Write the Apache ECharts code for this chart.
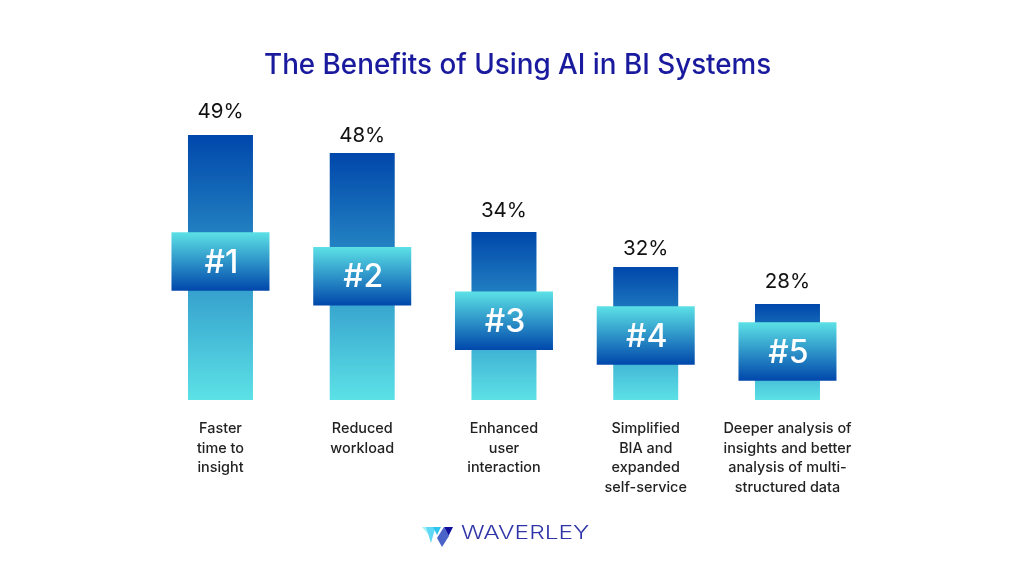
<!DOCTYPE html>
<html>
<head>
<meta charset="utf-8">
<style>html,body{margin:0;padding:0;background:#fff}#main{width:1024px;height:576px}</style>
<script src="https://cdn.jsdelivr.net/npm/echarts@6/dist/echarts.min.js"></script>
</head>
<body>
<div id="main"></div>
<script>
var categories = ['Faster\ntime to\ninsight', 'Reduced\nworkload', 'Enhanced\nuser\ninteraction', 'Simplified\nBIA and\nexpanded\nself-service', 'Deeper analysis of\ninsights and better\nanalysis of multi-\nstructured data'];
var percents = [49, 48, 34, 32, 28];
// the picture does not draw bars in proportion to the percent, so levels are read off separately
var barLevels = [265, 247, 168, 133, 96];
var bandBase = [109.3, 94.5, 50, 35.3, 19.3];
var bandSize = [58.5, 58.5, 58.5, 58.5, 58.5];
var ranks = ['#1', '#2', '#3', '#4', '#5'];

var font = 'Inter';
var darkBlue = '#0047ab';
var lightCyan = '#5ce1e6';
// gap between bar top and percent label differs per bar in the picture
var labelGaps = [13, 7, 11, 8, 12];

function grad(top, bottom) {
    return new echarts.graphic.LinearGradient(0, 0, 0, 1, [
        { offset: 0, color: top },
        { offset: 1, color: bottom }
    ]);
}

var myChart = echarts.init(document.getElementById('main'));
var hiddenX = {
    type: 'category',
    data: categories,
    axisLine: { show: false },
    axisTick: { show: false },
    axisLabel: { show: false }
};

var option = {
    animation: false,
    backgroundColor: '#ffffff',
    title: {
        text: 'The Benefits of Using AI in BI Systems',
        left: 259,
        top: 47,
        textStyle: { color: '#1a1a9e', fontFamily: font, fontSize: 27.8, fontWeight: 500 }
    },
    grid: { left: 149.6, width: 708.75, top: 100, height: 300 },
    xAxis: [
        {
            type: 'category',
            data: categories,
            axisLine: { show: false },
            axisTick: { show: false },
            axisLabel: {
                interval: 0,
                margin: 19,
                color: '#222222',
                fontFamily: font,
                fontSize: 14.4,
                fontWeight: 500,
                lineHeight: 19.5,
                align: 'center',
                verticalAlign: 'top'
            }
        },
        hiddenX
    ],
    yAxis: { type: 'value', min: 0, max: 300, show: false, splitLine: { show: false } },
    series: [
        {
            name: 'level',
            type: 'bar',
            xAxisIndex: 0,
            barWidth: 65,
            data: barLevels.map(function (v, i) {
                return { value: v, label: { distance: labelGaps[i] } };
            }),
            z: 2,
            itemStyle: { color: grad(darkBlue, lightCyan) },
            label: {
                show: true,
                position: 'top',
                color: '#111111',
                fontFamily: font,
                fontSize: 20.5,
                formatter: function (p) { return percents[p.dataIndex] + '%'; }
            }
        },
        {
            name: 'base',
            type: 'bar',
            xAxisIndex: 1,
            stack: 'band',
            barWidth: 98,
            data: bandBase,
            silent: true,
            itemStyle: { color: 'transparent' },
            z: 3
        },
        {
            name: 'rank',
            type: 'bar',
            xAxisIndex: 1,
            stack: 'band',
            barWidth: 98,
            data: bandSize,
            z: 3,
            itemStyle: { color: grad(lightCyan, darkBlue) },
            label: {
                show: true,
                position: 'inside',
                offset: [1, 1.5],
                color: '#ffffff',
                fontFamily: font,
                fontSize: 32,
                fontWeight: 500,
                formatter: function (p) { return ranks[p.dataIndex]; }
            }
        }
    ],
    graphic: [
        { type: 'polygon', shape: { points: [[422, 527], [431, 527], [428, 534]] }, style: { fill: '#a5f0f5' } },
        { type: 'polygon', shape: { points: [[426, 527], [435.5, 527], [431, 543]] }, style: { fill: '#5fd8f5' } },
        { type: 'polygon', shape: { points: [[433, 527], [441, 527], [437, 535]] }, style: { fill: '#2ec4ee' } },
        { type: 'polygon', shape: { points: [[444, 527], [453, 527], [448.5, 536]] }, style: { fill: '#10109a' } },
        { type: 'polygon', shape: { points: [[444, 527], [449, 536], [442, 547], [437, 538]] }, style: { fill: '#4a63c8' } },
        {
            type: 'text',
            x: 461,
            y: 525,
            scaleX: 1.36,
            style: { text: 'WAVERLEY', fill: '#2f35a8', font: '300 18px ' + font }
        }
    ]
};

myChart.setOption(option);
window.addEventListener('resize', function () {
    myChart.resize();
});
</script>
</body>
</html>
